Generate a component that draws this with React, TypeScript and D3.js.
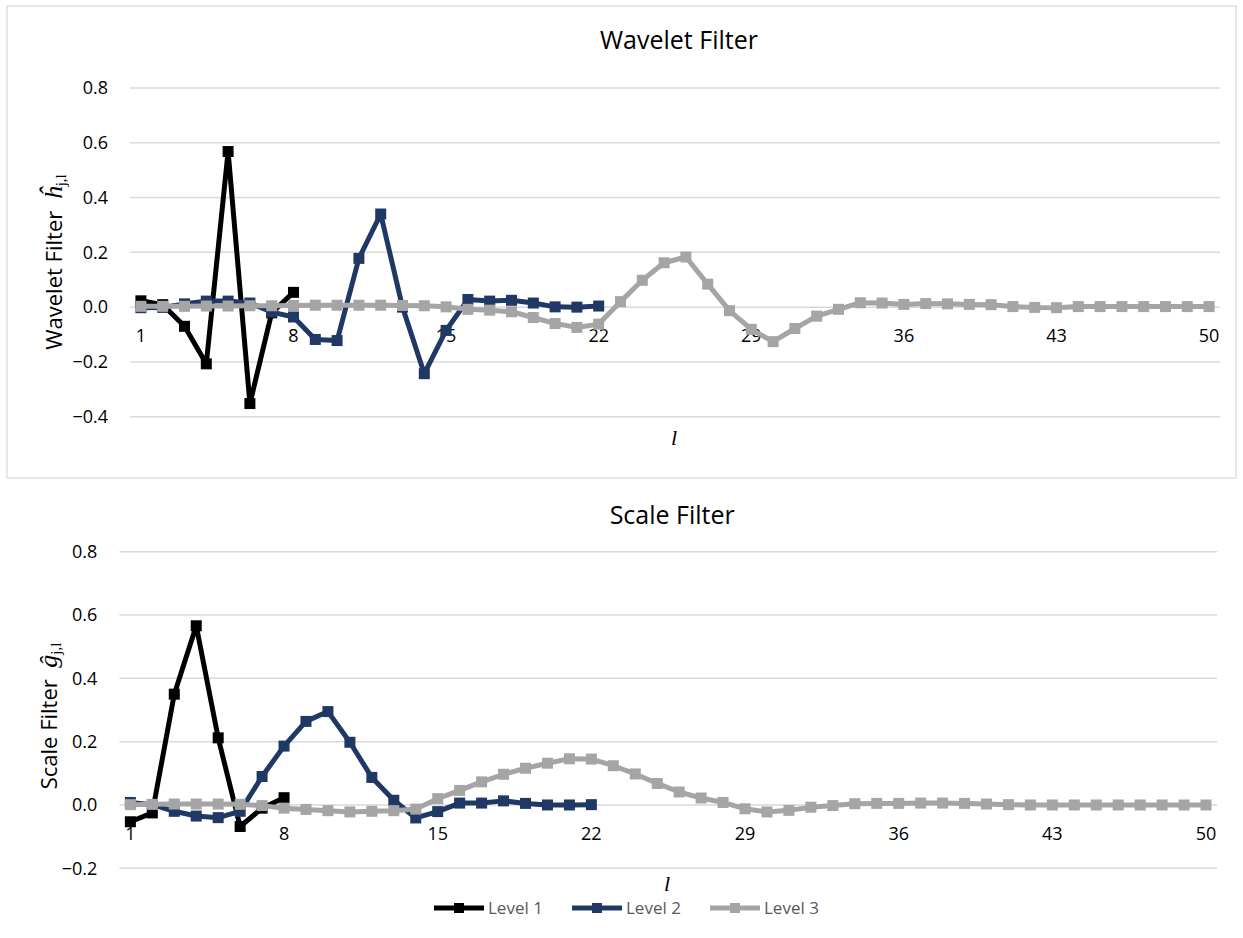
import React from 'react';
import * as d3 from 'd3';

// lag index l = 1..50
const lags = d3.range(1, 51);
const tickLags = [1, 8, 15, 22, 29, 36, 43, 50];

// wavelet filter h_{j,l}
const waveletLevel1 = [0.023, 0.009, -0.07, -0.207, 0.568, -0.352, -0.021, 0.054];
const waveletLevel2 = [
  -0.002, -0.001, 0.012, 0.022, 0.022, 0.015, -0.018, -0.036, -0.118, -0.122, 0.178,
  0.34, 0.0, -0.243, -0.085, 0.028, 0.022, 0.025, 0.015, 0.001, 0.0, 0.004,
];
const waveletLevel3 = [
  0.003, 0.003, 0.003, 0.004, 0.004, 0.005, 0.005, 0.006, 0.007, 0.007,
  0.007, 0.007, 0.006, 0.005, 0.001, -0.008, -0.011, -0.017, -0.038, -0.06,
  -0.074, -0.062, 0.02, 0.098, 0.162, 0.183, 0.084, -0.013, -0.081, -0.126,
  -0.078, -0.033, -0.008, 0.016, 0.015, 0.01, 0.013, 0.012, 0.01, 0.009,
  0.002, -0.001, -0.002, 0.002, 0.002, 0.002, 0.002, 0.002, 0.002, 0.002,
];

// scale filter g_{j,l}
const scaleLevel1 = [-0.053, -0.025, 0.35, 0.566, 0.212, -0.068, -0.01, 0.023];
const scaleLevel2 = [
  0.008, 0.001, -0.02, -0.035, -0.04, -0.02, 0.09, 0.186, 0.264, 0.295, 0.198,
  0.087, 0.015, -0.041, -0.021, 0.006, 0.006, 0.013, 0.005, 0.0, 0.0, 0.001,
];
const scaleLevel3 = [
  0.001, 0.002, 0.003, 0.003, 0.003, 0.002, -0.002, -0.01, -0.014, -0.018,
  -0.022, -0.02, -0.018, -0.013, 0.02, 0.046, 0.073, 0.097, 0.116, 0.132,
  0.146, 0.145, 0.124, 0.098, 0.068, 0.041, 0.022, 0.008, -0.012, -0.022,
  -0.017, -0.007, -0.002, 0.004, 0.005, 0.005, 0.006, 0.006, 0.005, 0.003,
  0.001, 0.0, 0.0, 0.0, 0.0, 0.0, 0.0, 0.0, 0.0, 0.0,
];

const levelNames = ['Level 1', 'Level 2', 'Level 3'];
const levelColors = ['#000000', '#203864', '#a5a5a5'];

const sans = '"Open Sans", "Noto Sans", sans-serif';
const serif = '"Liberation Serif", "DejaVu Serif", serif';
const fmt = (v: number) => (v < 0 ? '\u2212' : '') + Math.abs(v).toFixed(1);

interface PanelProps {
  title: string;
  titleY: number;
  axisLabel: string;
  symbol: string;
  labelX: number;
  labelY: number;
  series: number[][];
  yTicks: number[];
  left: number;
  right: number;
  top: number;
  bottom: number;
  lX: number;
  lY: number;
}

const Panel: React.FC<PanelProps> = (p) => {
  const x = d3.scaleBand<number>().domain(lags).range([p.left, p.right]);
  const y = d3
    .scaleLinear()
    .domain([p.yTicks[0], p.yTicks[p.yTicks.length - 1]])
    .range([p.bottom, p.top]);
  const cx = (l: number) => (x(l) || 0) + x.bandwidth() / 2;
  const line = d3
    .line<number>()
    .x((_, i) => cx(i + 1))
    .y((d) => y(d));
  const ms = 11;

  return (
    <g>
      <text x={(p.left + p.right) / 2 + 4} y={p.titleY} textAnchor="middle" fontFamily={sans} fontSize={25} fill="#000">
        {p.title}
      </text>
      {p.yTicks.map((t) => (
        <g key={t}>
          <line x1={p.left} x2={p.right} y1={y(t)} y2={y(t)} stroke="#d9d9d9" strokeWidth={1.5} />
          <text x={p.left - 22} y={y(t)} dy="0.35em" textAnchor="end" fontFamily={sans} fontSize={18} fill="#000">
            {fmt(t)}
          </text>
        </g>
      ))}
      {tickLags.map((l) => (
        <text key={l} x={cx(l)} y={y(0) + 35} textAnchor="middle" fontFamily={sans} fontSize={18} fill="#000">
          {l}
        </text>
      ))}
      {p.series.map((s, k) => (
        <g key={k}>
          <path d={line(s) || ''} fill="none" stroke={levelColors[k]} strokeWidth={5} strokeLinejoin="round" />
          {s.map((v, i) => (
            <rect key={i} x={cx(i + 1) - ms / 2} y={y(v) - ms / 2} width={ms} height={ms} fill={levelColors[k]} />
          ))}
        </g>
      ))}
      <text
        transform={`translate(${p.labelX},${p.labelY}) rotate(-90)`}
        textAnchor="middle"
        fontFamily={sans}
        fontSize={22}
        fill="#000"
      >
        <tspan>{p.axisLabel + '\u00a0\u00a0'}</tspan>
        <tspan fontFamily={serif} fontStyle="italic" fontSize={26}>{p.symbol}</tspan>
        <tspan fontFamily={serif} fontSize={15} dy={4}>j,l</tspan>
      </text>
      <text x={p.lX} y={p.lY} textAnchor="middle" fontFamily={serif} fontStyle="italic" fontSize={22} fill="#000">
        l
      </text>
    </g>
  );
};

const legendX = [434, 572, 710];

const App: React.FC = () => {
  return (
    <div style={{ position: 'absolute', left: 0, top: 0 }}>
      <svg width={1243} height={938} style={{ display: 'block', background: '#fff' }}>
        <rect x={7} y={6} width={1229} height={472} fill="none" stroke="#d9d9d9" strokeWidth={1.2} />
        <Panel
          title="Wavelet Filter"
          titleY={49}
          axisLabel="Wavelet Filter"
          symbol={'\u0125'}
          labelX={62}
          labelY={262}
          series={[waveletLevel1, waveletLevel2, waveletLevel3]}
          yTicks={[-0.4, -0.2, 0, 0.2, 0.4, 0.6, 0.8]}
          left={130}
          right={1220}
          top={88}
          bottom={416.7}
          lX={674}
          lY={445}
        />
        <Panel
          title="Scale Filter"
          titleY={524}
          axisLabel="Scale Filter"
          symbol={'\u011d'}
          labelX={57}
          labelY={716}
          series={[scaleLevel1, scaleLevel2, scaleLevel3]}
          yTicks={[-0.2, 0, 0.2, 0.4, 0.6, 0.8]}
          left={119.4}
          right={1217}
          top={551.7}
          bottom={868.3}
          lX={667}
          lY={891}
        />
        {levelNames.map((name, k) => (
          <g key={name} transform={`translate(${legendX[k]},908)`}>
            <line x1={0} x2={50} y1={0} y2={0} stroke={levelColors[k]} strokeWidth={5} />
            <rect x={20} y={-5} width={10} height={10} fill={levelColors[k]} />
            <text x={54} y={0} dy="0.35em" fontFamily={sans} fontSize={17} fill="#595959">
              {name}
            </text>
          </g>
        ))}
      </svg>
    </div>
  );
};

export default App;
